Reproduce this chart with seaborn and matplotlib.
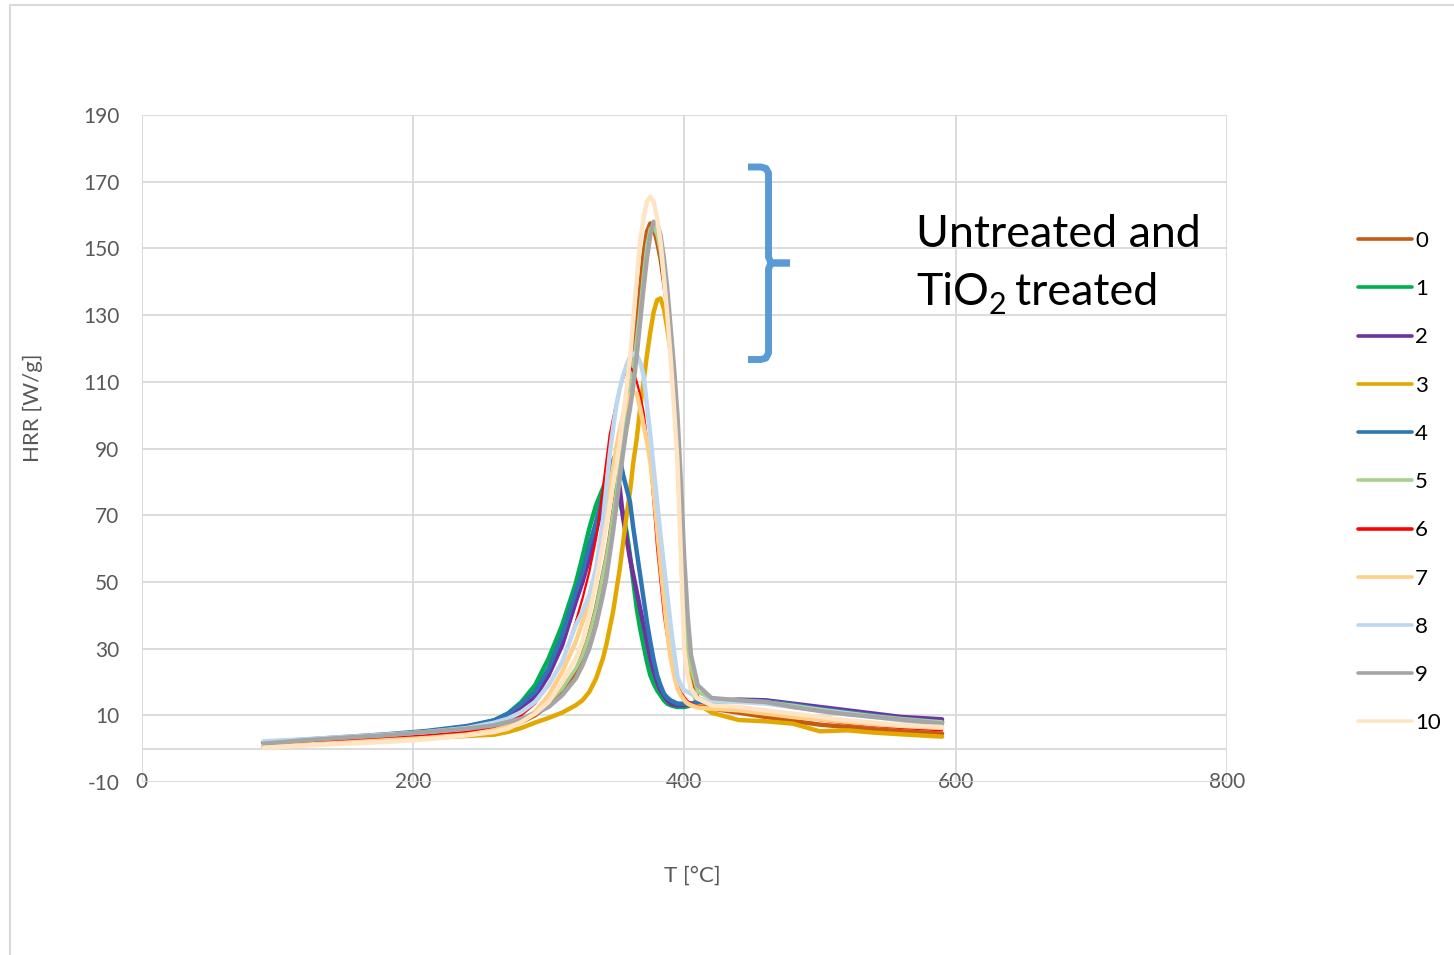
import matplotlib
matplotlib.use("Agg")
import matplotlib.pyplot as plt
import seaborn as sns
import pandas as pd
from matplotlib.lines import Line2D

# ---------------- data ----------------
temperature = [90, 120, 150, 180, 210, 240, 260, 270, 280, 290, 300, 310, 320, 325, 330, 335,
               340, 342.5, 345, 347.5, 350, 352.5, 355, 357.5, 360, 362.5, 365, 367.5, 370,
               372.5, 375, 377.5, 380, 382.5, 385, 387.5, 390, 392.5, 395, 397.5, 400, 402.5, 405,
               410, 420, 440, 460, 480, 500, 520, 540, 560, 590]

hrr_0 = [0.5, 1.2, 1.8, 2.5, 3.3, 4.3, 5.3, 6.5, 8, 10, 13, 17, 23, 28, 34, 42,
         52, 57, 63, 70, 77, 85, 94, 101, 108, 117, 127, 138, 148,
         155, 157.5, 156, 152, 147, 140, 133, 124, 112, 95, 70, 45, 30, 22,
         15, 12, 10.8, 9.5, 8.3, 7.2, 6.5, 5.8, 5.2, 4.5]
hrr_1 = [1.8, 2.5, 3.3, 4.0, 5.0, 6.5, 8.5, 10.5, 14, 19, 27, 37, 49.5, 57.5, 66, 73,
         78, 80.5, 81, 80, 77, 74, 70, 65, 58, 50, 42, 36, 31,
         26, 22, 19.5, 17.5, 16, 14.5, 13.5, 13, 12.7, 12.5, 12.5, 12.5, 12.7, 13,
         13.5, 14, 14.5, 14, 13, 12, 11, 10, 9, 8]
hrr_2 = [1.8, 2.5, 3.3, 4.1, 5.0, 6.3, 8.0, 9.8, 12.5, 15.5, 22, 31, 44, 50, 57, 65,
         74, 78, 82, 84.5, 83.5, 78, 69, 63, 57, 52, 47, 42, 37,
         32, 27, 23, 20, 17.5, 16, 14.5, 13.5, 13.2, 13, 13, 13, 13.2, 13.5,
         14, 14.3, 14.7, 14.5, 13.5, 12.5, 11.5, 10.5, 9.5, 8.8]
hrr_3 = [0.8, 1.4, 2.0, 2.6, 3.2, 3.8, 4.2, 5.0, 6.2, 7.8, 9.2, 10.8, 13, 14.5, 17, 21,
         27, 31, 36, 41, 47.5, 54, 62, 70, 77, 86, 93, 102, 110,
         118, 125, 131, 134.5, 135, 132, 126, 119, 107, 91, 62, 36, 24, 18,
         13.5, 10.8, 8.6, 8.2, 7.5, 5.2, 5.5, 4.8, 4.3, 3.6]
hrr_4 = [2.0, 2.7, 3.5, 4.3, 5.3, 6.8, 8.5, 10.5, 13.5, 17, 24, 34, 47, 53, 61, 68,
         76, 79.5, 83, 86.5, 88.5, 87, 82, 78, 74, 66, 59, 52, 45,
         38, 32, 26.5, 22, 19, 16.5, 15.3, 14.5, 14, 13.5, 13.5, 13.5, 13.5, 13.5,
         14, 14.2, 14.5, 14.2, 13.2, 12, 11, 10, 9, 8]
hrr_5 = [1.0, 1.8, 2.5, 3.2, 4.0, 5.0, 6.3, 7.5, 9, 11, 14, 18, 24, 28, 34, 42,
         52, 57, 63, 70, 77, 85, 94, 100, 107, 115, 123, 132, 142,
         151, 156, 156.5, 154, 149, 141, 131, 120, 108, 93, 72, 48, 32, 24,
         17, 15, 14.5, 14, 13, 11.8, 10.8, 9.8, 9, 8]
hrr_6 = [1.0, 1.8, 2.5, 3.2, 4.0, 5.0, 6.5, 8.0, 10, 13.5, 19, 26, 38, 45, 53, 63,
         78, 86, 94, 99, 104, 108, 111, 113.5, 114.5, 113, 110, 106, 101,
         93, 85, 73, 60, 50, 40, 33, 27, 22.5, 19, 17, 15.5, 14.3, 13.5,
         12.8, 12.3, 11.5, 10.5, 9.5, 8.5, 7.5, 6.8, 6.2, 5.5]
hrr_7 = [0.5, 1.2, 1.8, 2.5, 3.2, 4.2, 5.5, 6.5, 8, 11, 16, 23, 32, 38, 44, 51,
         64, 71, 78, 84, 90.5, 95.5, 100, 103.5, 106, 107, 106.5, 102, 97,
         92, 86, 77, 66, 55, 45, 35, 27, 22, 18, 16, 14.5, 13.5, 13,
         12.3, 12, 11.5, 10.5, 9.5, 8.8, 8, 7.3, 6.8, 6.2]
hrr_8 = [2.2, 2.8, 3.5, 4.2, 5.0, 6.2, 7.8, 9, 11, 14, 19, 26, 37, 41, 46, 54,
         68, 78, 88, 96, 103, 108, 112, 115, 117.5, 118.5, 118, 116, 112,
         103, 94, 84, 74, 64, 55, 46, 37, 29, 21.5, 19, 17.5, 17, 16.5,
         15, 14.3, 14, 13.5, 12.5, 11.5, 10.5, 9.5, 8.5, 7.2]
hrr_9 = [1.5, 2.5, 3.3, 4.0, 5.0, 6.0, 7.0, 8.0, 9, 10.5, 12.5, 16, 21, 25, 30, 37,
         46, 51, 58, 65, 73, 81, 89, 96, 102, 109, 118, 128, 138,
         147, 154, 158, 157.5, 154, 147, 138, 126, 114, 100, 80, 57, 40, 28,
         19, 15.2, 14.5, 14, 12.5, 11.3, 10.3, 9.5, 8.7, 7.5]
hrr_10 = [0.3, 0.9, 1.5, 2.0, 2.8, 4.0, 5.0, 6.0, 8, 10.5, 14, 20, 27, 32, 40, 50,
          61, 67, 73, 79, 85, 92, 100, 108, 117, 129, 141, 152, 159,
          164, 165.5, 164, 159, 152, 141.5, 130, 117, 102, 86, 58, 30, 22, 18,
          15, 13, 12.5, 11.5, 10.5, 9.5, 8.5, 7.8, 7, 6.5]

series_names = ["0", "1", "2", "3", "4", "5", "6", "7", "8", "9", "10"]
series_values = [hrr_0, hrr_1, hrr_2, hrr_3, hrr_4, hrr_5, hrr_6, hrr_7, hrr_8, hrr_9, hrr_10]
colors = ["#C55A11", "#00B050", "#7030A0", "#E3A800", "#2E75B6", "#A9D18E",
          "#FF0000", "#FFCF87", "#BDD7EE", "#A5A5A5", "#FFE4C4"]
widths = [3.2, 3.2, 3.2, 3.2, 3.2, 2.6, 1.6, 3.2, 3.2, 3.2, 3.2]

x_ticks = [0, 200, 400, 600, 800]
y_ticks = [-10, 10, 30, 50, 70, 90, 110, 130, 150, 170, 190]

rows = []
for name, vals in zip(series_names, series_values):
    for t, v in zip(temperature, vals):
        rows.append({"T": t, "HRR": v, "sample": name})
df = pd.DataFrame(rows)

# ---------------- figure ----------------
sns.set_theme(style="white")
plt.rcParams["font.family"] = ["Lato", "DejaVu Sans"]
plt.rcParams["axes.unicode_minus"] = False

W, H = 1454, 955
fig = plt.figure(figsize=(W / 100, H / 100), dpi=100)
fig.patch.set_facecolor("white")
ax = fig.add_axes([141.5 / W, 1 - 782 / H, (1227 - 141.5) / W, (782 - 115) / H])
ax.set_facecolor("white")

for i, name in enumerate(series_names):
    sub = df[df["sample"] == name]
    sns.lineplot(data=sub, x="T", y="HRR", color=colors[i], linewidth=widths[i],
                 ax=ax, legend=False, sort=False, estimator=None, zorder=3 + i)

ax.set_xlim(0, 800)
ax.set_ylim(-10, 190)
ax.set_xticks(x_ticks)
ax.set_yticks(y_ticks)
ax.grid(True, color="#D9D9D9", linewidth=1.3)
ax.axhline(0, color="#D9D9D9", linewidth=1.3, zorder=1)
ax.set_axisbelow(True)
for s in ax.spines.values():
    s.set_visible(False)
ax.tick_params(axis="both", length=0, labelsize=15, labelcolor="#595959")
ax.tick_params(axis="y", pad=16)
ax.tick_params(axis="x", pad=-7)
ax.set_xlabel("")
ax.set_ylabel("")

fig.text(33 / W, 1 - 408 / H, "HRR [W/g]", rotation=90, ha="center", va="center",
         fontsize=16, color="#595959")
fig.text(692 / W, 1 - 876 / H, "T [°C]", ha="center", va="center",
         fontsize=16, color="#595959")

# annotation text
fig.text(916 / W, 1 - 247 / H, "Untreated and", ha="left", va="baseline", fontsize=32.2, color="black")
renderer = fig.canvas.get_renderer()
t1 = fig.text(916 / W, 1 - 305 / H, "TiO", ha="left", va="baseline", fontsize=32.2, color="black")
bb1 = t1.get_window_extent(renderer=renderer)
t2 = fig.text((bb1.x1 + 0) / W, 1 - 314 / H, "2", ha="left", va="baseline", fontsize=22, color="black")
bb2 = t2.get_window_extent(renderer=renderer)
fig.text((bb2.x1 + 8) / W, 1 - 305 / H, "treated", ha="left", va="baseline", fontsize=32.2, color="black")

# bracket
def fp(pts):
    return [p[0] / W for p in pts], [1 - p[1] / H for p in pts]

top_part = [(748, 167), (761, 167), (766, 168.5), (768.5, 173), (768.5, 257), (771, 263), (790, 263)]
bot_part = [(790, 263), (771, 263), (768.5, 269), (768.5, 353), (766, 358), (761, 359.5), (748, 359.5)]
for part in (top_part, bot_part):
    xs, ys = fp(part)
    fig.add_artist(Line2D(xs, ys, transform=fig.transFigure, color="#5B9BD5", linewidth=5,
                          solid_joinstyle="round", solid_capstyle="butt"))

# outer chart border
fig.add_artist(Line2D([10 / W, 10 / W], [0, 1 - 5 / H], transform=fig.transFigure,
                      color="#D9D9D9", linewidth=1.5))
fig.add_artist(Line2D([10 / W, 1], [1 - 5 / H, 1 - 5 / H], transform=fig.transFigure,
                      color="#D9D9D9", linewidth=1.5))

# legend
handles = [Line2D([0], [0], color=c, linewidth=2.6, solid_capstyle="round") for c in colors]
fig.legend(handles, series_names, loc="upper left", bbox_to_anchor=(1358 / W, 1 - 231 / H),
           frameon=False, fontsize=16, handlelength=2.45, handletextpad=0.12,
           labelspacing=1.27, borderpad=0, borderaxespad=0, labelcolor="black")

fig.savefig("out.png", dpi=100, facecolor="white")
